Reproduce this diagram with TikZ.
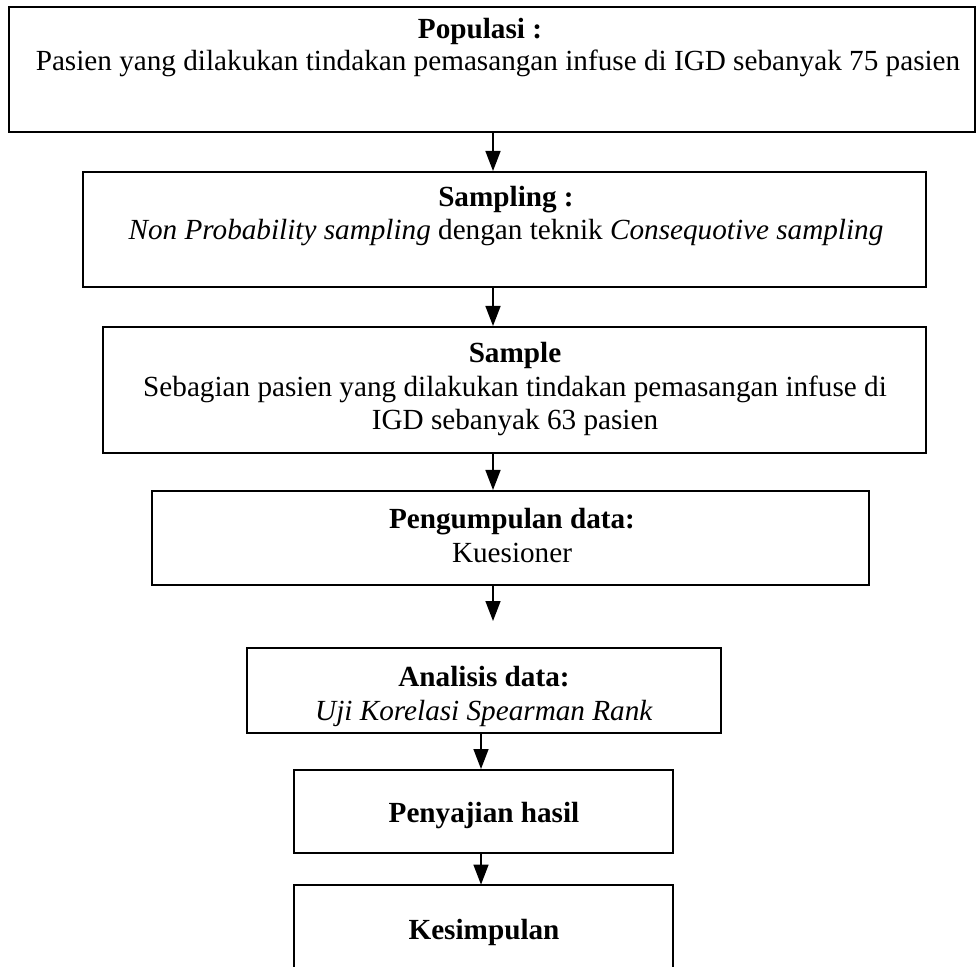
\documentclass[tikz,border=0pt]{standalone}
\usepackage{fontspec}
\setmainfont{Liberation Serif}
\usetikzlibrary{arrows.meta,fit}
\begin{document}
\begin{tikzpicture}[x=0.5pt,y=-0.5pt,
  box/.style={draw, line width=1pt, inner sep=0pt},
  frame/.style={inner sep=0pt},
  txt/.style={anchor=base, inner sep=0pt, align=center, font=\fontsize{14.6}{16.8}\selectfont},
  arr/.style={line width=0.75pt, -{Triangle[length=10pt,width=7.5pt]}}]
\useasboundingbox (0,0) rectangle (979,967);
\fill[white] (0,0) rectangle (979,967);
% boxes
\node[box, fit={(9,7) (975,132)}] (b1) {};
\node[box, fit={(83,172) (926,287)}] (b2) {};
\node[box, fit={(103,327) (926,453)}] (b3) {};
\node[box, fit={(152,491) (869,585)}] (b4) {};
\node[box, fit={(247,648) (721,733)}] (b5) {};
\node[box, fit={(294,770) (673,853)}] (b6) {};
\node[frame, fit={(294,885) (673,967)}] (b7) {};
\draw[line width=1pt] (b7.south west) -- (b7.north west) -- (b7.north east) -- (b7.south east);
% texts (base anchor = baseline of the last line)
\node[txt] (t1a) at (480,39) {\textbf{Populasi :}};
\node[txt] (t1b) at (498,71) {Pasien yang dilakukan tindakan pemasangan infuse di IGD sebanyak 75 pasien};
\node[txt] (t2) at (506,240) {\textbf{Sampling :}\\\textit{Non Probability sampling} dengan teknik \textit{Consequotive sampling}};
\node[txt] (t3) at (515,430) {\textbf{Sample}\\Sebagian pasien yang dilakukan tindakan pemasangan infuse di\\IGD sebanyak 63 pasien};
\node[txt] (t4) at (512,562) {\textbf{Pengumpulan data:}\\Kuesioner};
\node[txt] (t5) at (484,720) {\textbf{Analisis data:}\\\textit{Uji Korelasi Spearman Rank}};
\node[txt] (t6) at (484,822) {\textbf{Penyajian hasil}};
\node[txt] (t7) at (484,939) {\textbf{Kesimpulan}};
% arrows
\coordinate (xa) at (493,0);
\coordinate (xb) at (481,0);
\coordinate (e4) at (493,621);
\draw[arr] (b1.south -| xa) -- (b2.north -| xa);
\draw[arr] (b2.south -| xa) -- (b3.north -| xa);
\draw[arr] (b3.south -| xa) -- (b4.north -| xa);
\draw[arr] (b4.south -| xa) -- (e4);
\draw[arr] (b5.south -| xb) -- (b6.north -| xb);
\draw[arr] (b6.south -| xb) -- (b7.north -| xb);
\end{tikzpicture}
\end{document}
